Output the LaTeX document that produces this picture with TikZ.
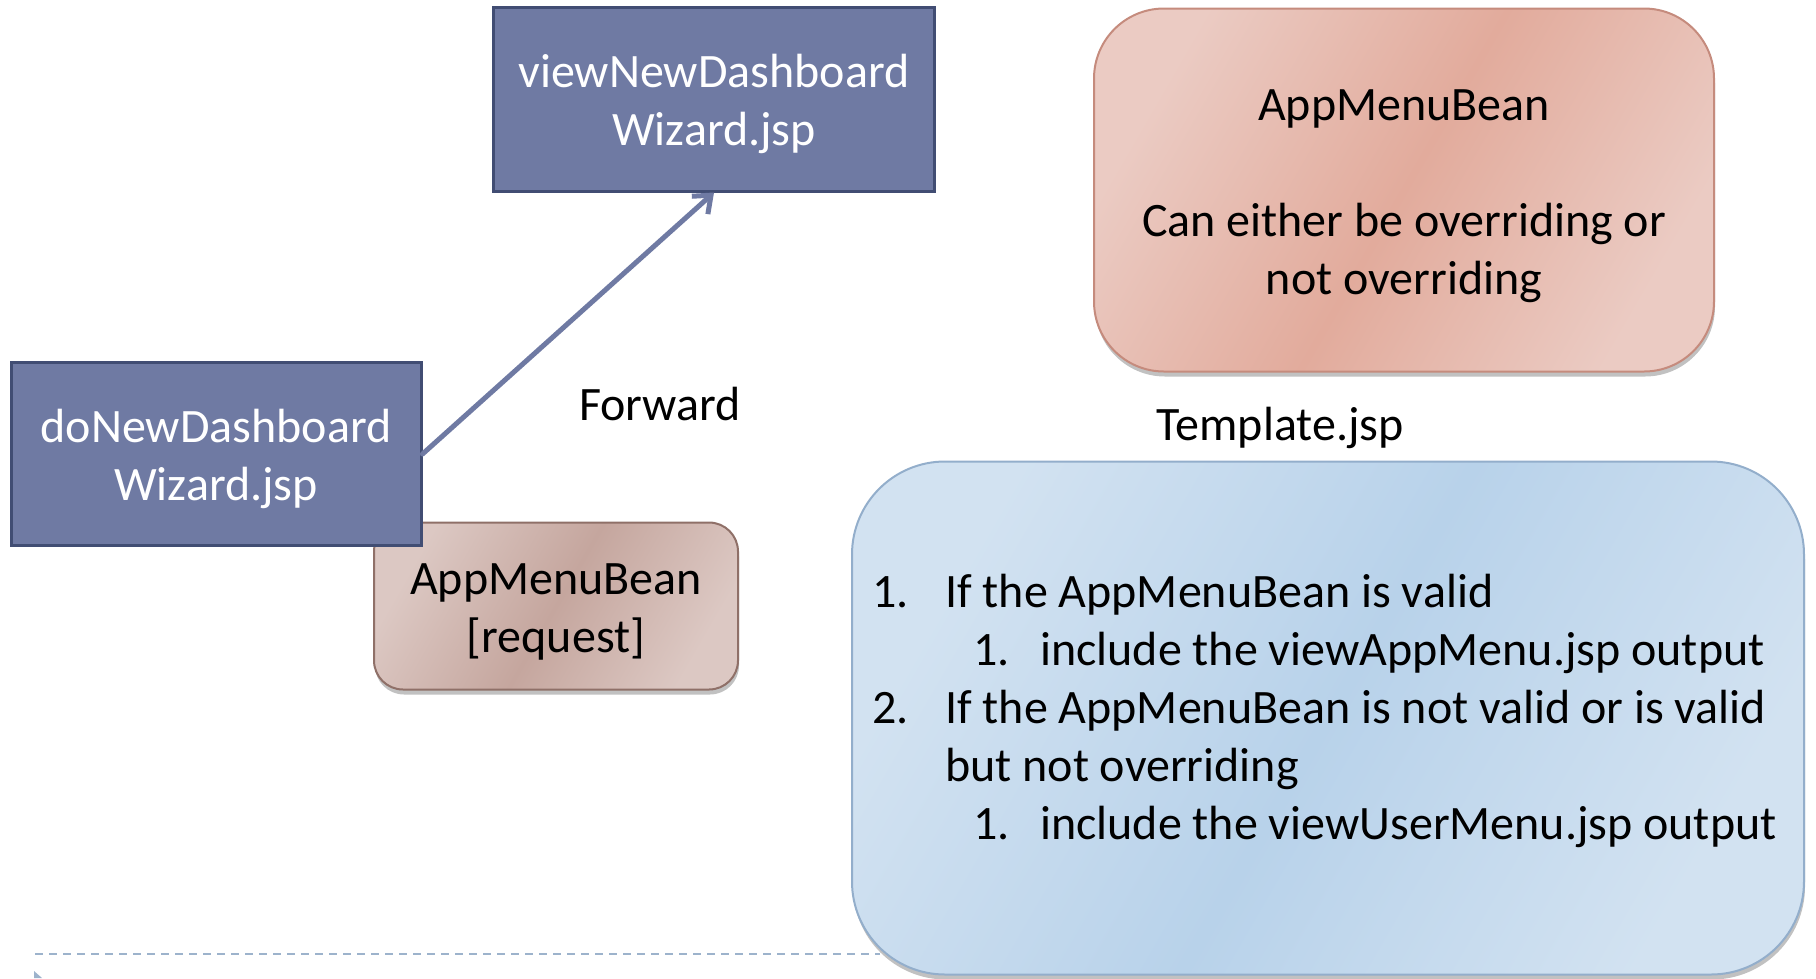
\documentclass[tikz,border=0pt]{standalone}
\usepackage{fontspec}
\setmainfont{Carlito}
\usepackage{tikz}
\usetikzlibrary{arrows.meta}
\usetikzlibrary{shadows}

\definecolor{jspfill}{HTML}{6F7AA3}
\definecolor{jspedge}{HTML}{414D73}
\definecolor{pinklight}{HTML}{EBCBC3}
\definecolor{pinkmid}{HTML}{E2AB9C}
\definecolor{pinkedge}{HTML}{C58B7D}
\definecolor{reqlight}{HTML}{DCC8C3}
\definecolor{reqmid}{HTML}{C5A69E}
\definecolor{reqedge}{HTML}{8F7068}
\definecolor{tpllight}{HTML}{D2E2F1}
\definecolor{tplmid}{HTML}{B8D2EA}
\definecolor{tpledge}{HTML}{93AECB}
\definecolor{footline}{HTML}{9DB3CC}

\newcommand{\boxlines}[1]{\begin{tabular}{@{}c@{}}\rule{0pt}{53pt}#1\end{tabular}}

\begin{document}
\begin{tikzpicture}[x=1pt,y=-1pt,
	every node/.style={font=\fontsize{48}{58}\selectfont},
	jsp/.style={inner sep=0pt,draw=jspedge,line width=3pt,fill=jspfill,text=white},
	bean/.style={inner sep=0pt,rounded corners=#1,line width=2pt,
		drop shadow={shadow xshift=1pt,shadow yshift=-5pt,opacity=.35,fill=black!70}}]
	\useasboundingbox (0,0) rectangle (1816,978);
	% footer line of the slide
	\draw[footline,line width=2pt,dash pattern=on 8pt off 6pt] (35,954)--(880,954);
	\fill[footline] (34,971)--(42,978)--(34,978)--cycle;

	\node[bean=29pt,draw=reqedge,left color=reqlight,right color=reqlight,middle color=reqmid,shading angle=60,
		minimum width=364pt,minimum height=167pt] (req) at (556,606) {\boxlines{AppMenuBean\\{[request]}}};
	\node[jsp,minimum width=410pt,minimum height=183pt] (doWiz) at (216,454) {\boxlines{doNewDashboard\\Wizard.jsp}};
	\node[jsp,minimum width=441pt,minimum height=184pt] (viewWiz) at (714,99) {\boxlines{viewNewDashboard\\Wizard.jsp}};
	\draw[jspfill,line width=5pt,line cap=round,-{Straight Barb[length=15pt,width=24pt,line width=5pt]}]
		(doWiz.east)--(viewWiz.south);
	\node (fwd) at (660,404) {Forward};

	\node[bean=70pt,draw=pinkedge,left color=pinklight,right color=pinklight,middle color=pinkmid,shading angle=60,
		minimum width=620pt,minimum height=363pt] (pinkBean) at (1404,190)
		{\boxlines{AppMenuBean\\ \\Can either be overriding or\\not overriding}};

	\node (tplName) at (1280,428) {Template.jsp};
	\node[bean=93pt,draw=tpledge,left color=tpllight,right color=tpllight,middle color=tplmid,shading angle=60,
		minimum width=952pt,minimum height=513pt] (tpl) at (1328,718) {};
	\node[anchor=west,align=left,inner sep=0pt] (tplList) at (872,711)
		{\makebox[73pt][l]{1.}If the AppMenuBean is valid\\
		\hspace*{101pt}\makebox[67pt][l]{1.}include the viewAppMenu.jsp output\\
		\makebox[73pt][l]{2.}If the AppMenuBean is not valid or is valid\\
		\hspace*{73pt}but not overriding\\
		\hspace*{101pt}\makebox[67pt][l]{1.}include the viewUserMenu.jsp output};
\end{tikzpicture}
\end{document}
